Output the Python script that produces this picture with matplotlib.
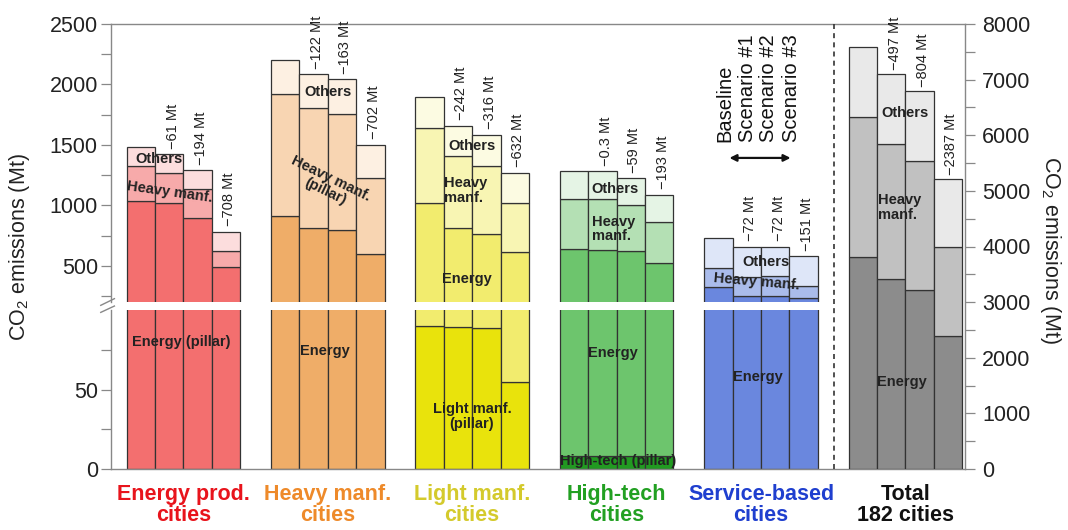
import matplotlib.pyplot as plt
import numpy as np

plt.rcParams['font.family'] = ['Liberation Sans', 'DejaVu Sans']
plt.rcParams['mathtext.fontset'] = 'custom'
plt.rcParams['mathtext.rm'] = 'Liberation Sans'
plt.rcParams['mathtext.it'] = 'Liberation Sans'
plt.rcParams['mathtext.bf'] = 'Liberation Sans:bold'

scenarios = ['Baseline', 'Scenario #1', 'Scenario #2', 'Scenario #3']
group_names = ['Energy prod.\ncities', 'Heavy manf.\ncities', 'Light manf.\ncities',
               'High-tech\ncities', 'Service-based\ncities', 'Total\n182 cities']
group_colors = ['#E8141C', '#EE8A2A', '#D4CA2C', '#22A022', '#1F3FCF', '#111111']

# segments from bottom to top, Mt, one value per scenario
energy_prod_energy = [1037, 1021, 899, 492]
energy_prod_heavy = [292, 245, 235, 129]
energy_prod_others = [155, 157, 157, 158]
energy_prod_deltas = ['−61 Mt', '−194 Mt', '−708 Mt']

heavy_manf_energy = [908, 809, 795, 597]
heavy_manf_heavy = [1016, 1000, 964, 628]
heavy_manf_others = [281, 275, 284, 278]
heavy_manf_deltas = ['−122 Mt', '−163 Mt', '−702 Mt']

light_manf_light = [90, 89.5, 88.5, 54.5]
light_manf_energy = [928, 719.5, 673.5, 558.5]
light_manf_heavy = [625, 595, 567, 402]
light_manf_others = [256, 256, 256, 254]
light_manf_deltas = ['−242 Mt', '−316 Mt', '−632 Mt']

hitech_hitech = [8, 8, 8, 8]
hitech_energy = [630, 622, 616, 511]
hitech_heavy = [418, 426, 378, 339]
hitech_others = [224, 224, 220, 227]
hitech_deltas = ['−0.3 Mt', '−59 Mt', '−193 Mt']

service_energy = [321, 246, 246, 233]
service_heavy = [160, 161, 166, 102]
service_others = [248, 250, 245, 245]
service_deltas = ['−72 Mt', '−72 Mt', '−151 Mt']

total_energy = [3817, 3422, 3218, 2397]
total_heavy = [2518, 2421, 2326, 1589]
total_others = [1258, 1257, 1256, 1224]
total_deltas = ['−497 Mt', '−804 Mt', '−2387 Mt']

groups = [
    ([energy_prod_energy, energy_prod_heavy, energy_prod_others],
     ['#F36F6F', '#F7AAAA', '#FCDDDD'], energy_prod_deltas),
    ([heavy_manf_energy, heavy_manf_heavy, heavy_manf_others],
     ['#EFAD68', '#F8D5B2', '#FDF0E2'], heavy_manf_deltas),
    ([light_manf_light, light_manf_energy, light_manf_heavy, light_manf_others],
     ['#E9E30C', '#F2EC6E', '#F8F5B3', '#FCFBE2'], light_manf_deltas),
    ([hitech_hitech, hitech_energy, hitech_heavy, hitech_others],
     ['#219A21', '#6DC56D', '#B4E0B4', '#E5F4E5'], hitech_deltas),
    ([service_energy, service_heavy, service_others],
     ['#6A87DE', '#AABCEB', '#DEE6F8'], service_deltas),
]
total_colors = ['#8C8C8C', '#C1C1C1', '#E9E9E9']

edge = '#333333'
spine_col = '#888888'
starts = [0.55 + 5.09 * i for i in range(6)]
xlim = (0, 30.1)

fig = plt.figure(figsize=(10.68, 5.30), dpi=100)
L, W = 111 / 1068, 854 / 1068
ax_hi = fig.add_axes([L, 1 - 302 / 530, W, 278 / 530])
ax_lo = fig.add_axes([L, 1 - 469 / 530, W, 159 / 530])
ax_tot = fig.add_axes([L, 1 - 469 / 530, W, 445 / 530])
ax_tot.patch.set_visible(False)

ax_hi.set_ylim(200, 2500)
ax_lo.set_ylim(0, 100)
ax_tot.set_ylim(0, 8000)
for ax in (ax_hi, ax_lo, ax_tot):
    ax.set_xlim(*xlim)
    ax.set_xticks([])
    for s in ax.spines.values():
        s.set_color(spine_col)
        s.set_linewidth(1.0)
    ax.tick_params(axis='y', which='both', direction='out', length=7.5, width=0.9,
                   color=spine_col, labelsize=15.5, labelcolor='#222222', pad=2)

ax_hi.spines['right'].set_visible(False)
ax_hi.spines['bottom'].set_visible(False)
ax_lo.spines['right'].set_visible(False)
ax_lo.spines['top'].set_visible(False)
for s in ['left', 'top', 'bottom']:
    ax_tot.spines[s].set_visible(False)
ax_tot.yaxis.tick_right()
ax_tot.tick_params(axis='y', which='both', pad=5)

ax_hi.set_yticks(np.arange(500, 2501, 500))
ax_hi.set_yticks(np.arange(250, 2501, 250), minor=True)
ax_lo.set_yticks([0, 50])
ax_lo.set_yticks([25, 75], minor=True)
ax_tot.set_yticks(np.arange(0, 8001, 1000))
ax_tot.set_yticks(np.arange(500, 8001, 500), minor=True)

# stacked bars for the city groups, drawn in both halves of the broken axis
for gi, (segs, cols, deltas) in enumerate(groups):
    x = starts[gi] + np.arange(4) + 0.5
    for ax in (ax_hi, ax_lo):
        bottom = np.zeros(4)
        for vals, c in zip(segs, cols):
            ax.bar(x, vals, bottom=bottom, width=1.0, color=c, edgecolor=edge, linewidth=0.9)
            bottom = bottom + np.array(vals)
    tops = np.sum(segs, axis=0)
    for j in range(1, 4):
        ax_hi.annotate(deltas[j - 1], xy=(x[j] + 0.12, tops[j]), xytext=(0, 4),
                       textcoords='offset points', rotation=90, ha='center', va='bottom',
                       fontsize=10.5, color='#222222')

# total on the right axis
x = starts[5] + np.arange(4) + 0.5
bottom = np.zeros(4)
for vals, c in zip([total_energy, total_heavy, total_others], total_colors):
    ax_tot.bar(x, vals, bottom=bottom, width=1.0, color=c, edgecolor=edge, linewidth=0.9)
    bottom = bottom + np.array(vals)
for j in range(1, 4):
    ax_tot.annotate(total_deltas[j - 1], xy=(x[j] + 0.12, bottom[j]), xytext=(0, 3),
                    textcoords='offset points', rotation=90, ha='center', va='bottom',
                    fontsize=10.5, color='#222222')

ax_tot.axvline(25.48, color='#333333', lw=1.2, ls=(0, (3, 2.5)))

# segment labels
lab = dict(fontsize=10.5, fontweight='bold', color='#222222', ha='center', va='center')
ax_hi.text(1.69, 1383, 'Others', **lab)
ax_hi.text(2.08, 1110, 'Heavy manf.', rotation=-8, **lab)
ax_lo.text(2.47, 80, 'Energy (pillar)', **lab)
ax_hi.text(7.65, 1938, 'Others', **lab)
ax_hi.text(7.65, 1168, 'Heavy manf.\n(pillar)', rotation=-26, linespacing=1.0, **lab)
ax_lo.text(7.54, 74, 'Energy', **lab)
ax_hi.text(12.72, 1491, 'Others', **lab)
ax_hi.text(11.72, 1123, 'Heavy\nmanf.', fontsize=10.5, fontweight='bold', color='#222222',
           ha='left', va='center', linespacing=1.05)
ax_hi.text(11.68, 391, 'Energy', fontsize=10.5, fontweight='bold', color='#222222',
           ha='left', va='center')
ax_lo.text(12.72, 33, 'Light manf.\n(pillar)', linespacing=1.05, **lab)
ax_hi.text(17.77, 1135, 'Others', **lab)
ax_hi.text(16.97, 805, 'Heavy\nmanf.', fontsize=10.5, fontweight='bold', color='#222222',
           ha='left', va='center', linespacing=1.05)
ax_lo.text(17.69, 73, 'Energy', **lab)
ax_lo.text(17.87, 5, 'High-tech (pillar)', **lab)
ax_hi.text(23.09, 532, 'Others', **lab)
ax_hi.text(22.77, 366, 'Heavy manf.', rotation=-5, **lab)
ax_lo.text(22.80, 58, 'Energy', **lab)
ax_tot.text(27.99, 6401, 'Others', **lab)
ax_tot.text(27.05, 4702, 'Heavy\nmanf.', fontsize=10.5, fontweight='bold', color='#222222',
            ha='left', va='center', linespacing=1.05)
ax_tot.text(27.88, 1564, 'Energy', **lab)

# scenario legend
for xs, name in zip([21.64, 22.42, 23.19, 24.0], scenarios):
    ax_hi.text(xs, 1524, name, rotation=90, ha='center', va='bottom', fontsize=14.5,
               color='#111111')
ax_hi.annotate('', xy=(21.70, 1392), xytext=(24.05, 1392),
               arrowprops=dict(arrowstyle='<|-|>', color='#111111', lw=1.6,
                               mutation_scale=10))

# group names under the bars
for gi, name in enumerate(group_names):
    ax_lo.text(starts[gi] + 2, -0.095, name, transform=ax_lo.get_xaxis_transform(),
               ha='center', va='top', fontsize=15.5, fontweight='bold',
               color=group_colors[gi], linespacing=1.0)

# break marks on the left axis
bk = dict(color=spine_col, lw=1.0, clip_on=False)
ax_hi.plot([-0.012, 0.004], [-0.012, 0.012], transform=ax_hi.transAxes, **bk)
ax_lo.plot([-0.012, 0.004], [0.985, 1.025], transform=ax_lo.transAxes, **bk)

fig.text(20 / 1068, 1 - 247 / 530, 'CO$_2$ emissions (Mt)', rotation=90,
         ha='center', va='center', fontsize=15.5, color='#222222')
fig.text(1050 / 1068, 1 - 250 / 530, 'CO$_2$ emissions (Mt)', rotation=270,
         ha='center', va='center', fontsize=15.5, color='#222222')

fig.savefig('out.png', dpi=100)
